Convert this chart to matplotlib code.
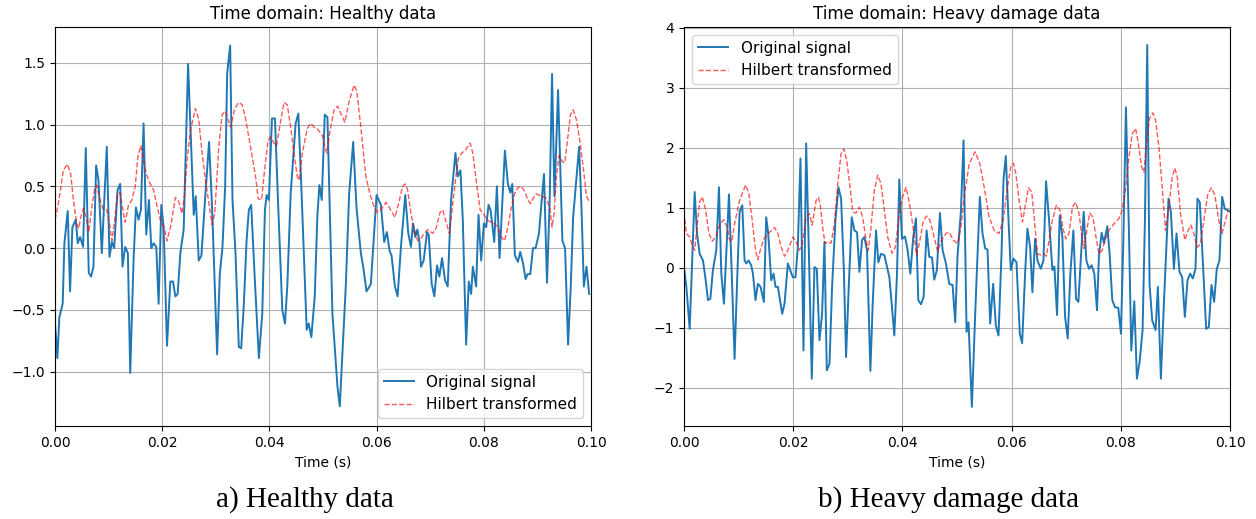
import numpy as np
import matplotlib.pyplot as plt

# healthy data (time in ms, amplitude)
h_t = [0.00, 0.44, 0.81, 1.43, 1.75, 2.37, 2.81, 3.24, 3.87, 4.24, 4.68, 5.24, 5.74, 6.30, 6.73, 7.17,
       7.67, 8.11, 8.73, 9.66, 10.16, 10.60, 11.04, 11.66, 12.16, 12.59, 13.09, 13.59, 14.03, 14.65,
       15.09, 15.59, 16.02, 16.52, 17.02, 17.52, 17.96, 18.39, 18.89, 19.33, 19.83, 20.26, 20.89,
       21.51, 22.01, 22.45, 22.88, 23.38, 24.00, 24.82, 25.88, 26.25, 26.81, 27.31, 28.06, 28.74,
       29.30, 30.24, 30.74, 31.24, 31.74, 32.11, 32.67, 33.11, 33.67, 34.29, 34.73, 35.23, 35.73,
       36.16, 36.60, 37.22, 38.03, 38.66, 39.16, 39.47, 39.90, 40.47, 41.03, 41.59, 42.40, 42.90,
       43.33, 43.96, 44.89, 45.39, 45.95, 46.95, 47.32, 47.82, 48.45, 48.94, 49.32, 49.76, 50.32,
       50.82, 51.75, 52.69, 53.12, 53.62, 54.24, 54.87, 55.62, 56.24, 57.05, 57.49, 58.11, 58.92,
       59.98, 60.79, 61.41, 61.91, 62.41, 62.78, 63.41, 63.91, 64.53, 65.34, 65.90, 66.40, 66.78,
       67.21, 67.59, 67.96, 68.27, 68.77, 69.40, 69.71, 70.27, 70.77, 71.27, 71.70, 72.20, 72.76,
       73.26, 73.88, 74.70, 75.13, 75.63, 76.07, 76.69, 77.19, 77.63, 77.94, 78.25, 78.56, 79.00,
       79.50, 80.00, 80.43, 80.87, 81.24, 81.55, 81.93, 82.43, 82.93, 83.36, 83.92, 84.48, 84.92,
       85.30, 85.79, 86.35, 86.79, 87.29, 87.79, 88.16, 88.66, 89.16, 89.66, 90.28, 90.91, 91.22,
       91.78, 92.28, 92.72, 93.16, 93.53, 93.84, 94.65, 95.15, 95.71, 96.21, 96.65, 97.77, 98.21,
       98.65, 99.15, 99.64]
h_sig = [-0.61, -0.89, -0.56, -0.45, 0.04, 0.30, -0.35, 0.17, 0.23, 0.04, 0.09, 0.01, 0.81, -0.20,
         -0.23, -0.15, 0.67, 0.55, -0.04, 0.82, -0.07, 0.05, 0.00, 0.47, 0.52, -0.15, 0.01, -0.04,
         -1.01, -0.10, 0.33, 0.23, 0.31, 1.01, 0.11, 0.39, 0.00, 0.04, 0.01, -0.45, 0.35, 0.17, -0.79,
         -0.27, -0.27, -0.39, -0.37, -0.04, 0.15, 1.49, 0.27, 0.42, -0.10, -0.06, 0.44, 0.86, 0.33,
         -0.86, -0.21, 0.01, 0.50, 1.41, 1.64, 0.39, -0.04, -0.80, -0.81, -0.45, 0.06, 0.31, 0.35,
         -0.21, -0.89, -0.53, 0.31, 0.43, 0.39, 1.05, 1.05, 0.39, -0.50, -0.61, -0.31, 0.44, 1.01,
         1.09, 0.50, -0.66, -0.61, -0.72, -0.39, 0.26, 0.51, 0.39, 1.08, 1.06, -0.53, -1.12, -1.28,
         -0.85, -0.31, 0.44, 0.86, 0.33, -0.04, -0.15, -0.35, -0.29, 0.43, 0.35, 0.05, 0.13, -0.02,
         -0.06, -0.31, -0.39, 0.01, 0.43, 0.12, 0.01, 0.20, 0.09, 0.15, 0.06, -0.15, -0.10, 0.13,
         0.11, -0.29, -0.39, -0.14, -0.23, -0.08, -0.26, -0.31, 0.39, 0.77, 0.58, 0.63, 0.23, -0.78,
         -0.27, -0.37, -0.15, -0.23, -0.31, 0.27, -0.10, 0.20, 0.17, 0.35, 0.31, 0.20, 0.05, 0.50,
         -0.08, 0.30, 0.79, 0.52, 0.45, 0.52, -0.06, -0.11, -0.03, -0.12, -0.25, -0.21, -0.21, 0.00,
         0.00, 0.12, 0.45, 0.60, -0.28, 0.39, 1.41, 0.42, 0.87, 1.28, 0.06, 0.00, -0.78, -0.31,
         0.25, 0.82, 0.33, -0.31, -0.15, -0.37]
h_env_t = [0.00, 0.62, 1.56, 2.31, 2.93, 3.43, 4.05, 4.43, 4.80, 5.30, 5.80, 6.30, 6.86, 7.36, 7.79,
           8.29, 8.92, 9.66, 10.16, 10.60, 11.04, 11.66, 12.16, 12.66, 13.09, 13.72, 14.34, 14.96,
           15.46, 16.02, 16.52, 17.02, 17.77, 18.39, 19.02, 19.64, 20.39, 20.89, 21.64, 22.45,
           23.07, 23.69, 24.13, 24.63, 25.25, 26.19, 26.81, 27.43, 28.24, 29.30, 29.80, 30.55,
           31.18, 31.80, 32.74, 33.54, 34.29, 34.92, 35.54, 36.47, 37.41, 37.91, 38.53, 39.09,
           39.72, 40.22, 40.84, 41.34, 41.90, 42.71, 43.33, 43.96, 44.58, 45.20, 45.52, 46.14,
           47.07, 47.70, 48.32, 49.07, 49.88, 50.32, 50.69, 51.31, 52.06, 52.69, 53.43, 54.06,
           54.87, 55.80, 56.30, 57.05, 57.99, 58.80, 59.54, 60.17, 60.79, 61.73, 62.35, 63.41,
           64.03, 64.84, 65.34, 65.78, 66.40, 67.03, 67.65, 68.27, 68.90, 69.52, 70.46, 71.08,
           71.83, 72.33, 72.83, 73.57, 74.20, 74.70, 75.26, 75.88, 76.50, 77.44, 77.94, 78.56,
           79.31, 79.93, 80.56, 81.37, 81.99, 82.61, 83.24, 83.86, 84.48, 85.11, 85.73, 86.35,
           86.98, 87.60, 88.22, 88.66, 89.16, 89.78, 90.72, 91.53, 92.28, 92.72, 93.10, 93.53,
           94.03, 94.65, 95.09, 95.59, 96.15, 96.65, 97.27, 97.90, 98.52, 99.15, 99.64]
h_env = [0.23, 0.36, 0.63, 0.68, 0.60, 0.39, 0.20, 0.16, 0.25, 0.32, 0.25, 0.13, 0.33, 0.47, 0.51,
         0.41, 0.32, 0.31, 0.20, 0.06, 0.19, 0.44, 0.45, 0.31, 0.21, 0.35, 0.39, 0.50, 0.74, 0.83,
         0.71, 0.60, 0.52, 0.47, 0.34, 0.23, 0.16, 0.06, 0.19, 0.41, 0.38, 0.28, 0.42, 0.71, 0.95,
         1.13, 1.04, 0.77, 0.50, 0.19, 0.28, 0.82, 1.08, 1.11, 0.98, 1.13, 1.18, 1.16, 1.05, 0.82,
         0.58, 0.40, 0.39, 0.63, 0.87, 0.90, 0.85, 0.83, 0.98, 1.18, 1.16, 0.98, 0.77, 0.58, 0.55,
         0.77, 0.97, 1.01, 0.98, 0.96, 0.91, 0.82, 0.77, 0.95, 1.12, 1.15, 1.08, 1.02, 1.19, 1.32,
         1.27, 0.98, 0.58, 0.43, 0.33, 0.29, 0.31, 0.37, 0.33, 0.25, 0.35, 0.50, 0.52, 0.47, 0.28,
         0.15, 0.06, 0.08, 0.12, 0.15, 0.12, 0.16, 0.29, 0.31, 0.23, 0.12, 0.36, 0.55, 0.73, 0.77,
         0.79, 0.85, 0.77, 0.55, 0.31, 0.28, 0.23, 0.21, 0.20, 0.17, 0.09, 0.06, 0.17, 0.33, 0.44,
         0.49, 0.50, 0.46, 0.39, 0.36, 0.40, 0.44, 0.42, 0.41, 0.33, 0.17, 0.28, 0.58, 0.75, 0.70,
         0.69, 0.87, 1.08, 1.12, 1.04, 0.87, 0.66, 0.42, 0.38]

# heavy damage data (time in ms, amplitude)
d_t = [0.00, 0.43, 1.04, 1.95, 2.38, 2.86, 3.47, 3.90, 4.39, 4.82, 5.30, 5.91, 6.40, 6.83, 7.31,
       7.74, 8.23, 8.72, 9.26, 9.75, 10.18, 10.67, 11.09, 11.40, 11.82, 12.31, 12.62, 13.10, 13.53,
       14.02, 14.63, 15.05, 15.42, 15.97, 16.40, 16.76, 17.19, 17.98, 18.41, 19.02, 19.44, 19.93,
       20.42, 20.84, 21.33, 21.88, 22.37, 22.86, 23.40, 23.89, 24.32, 24.81, 25.29, 25.72, 26.15,
       26.64, 27.12, 27.73, 28.28, 28.77, 29.26, 29.68, 30.17, 30.72, 31.21, 31.69, 32.12, 32.61,
       33.03, 33.52, 34.13, 34.56, 35.17, 35.59, 36.08, 36.69, 37.18, 37.61, 38.09, 38.52, 39.01,
       39.43, 39.92, 40.47, 40.96, 41.45, 41.99, 42.48, 42.91, 43.40, 43.88, 44.43, 44.92, 45.41,
       45.83, 46.32, 46.87, 47.36, 47.97, 48.58, 49.19, 49.67, 50.10, 50.71, 51.20, 51.75, 52.11,
       52.72, 53.33, 54.18, 54.67, 55.16, 55.59, 56.07, 56.62, 57.11, 57.60, 58.15, 58.51, 58.94,
       59.43, 59.85, 60.34, 60.89, 61.50, 61.93, 62.47, 62.90, 63.39, 63.81, 64.30, 64.73, 65.34,
       65.83, 66.31, 66.86, 67.47, 67.84, 68.32, 68.81, 69.30, 69.79, 70.28, 70.76, 71.31, 71.80,
       72.23, 72.71, 73.20, 73.69, 74.18, 74.66, 75.15, 75.64, 76.00, 76.49, 76.92, 77.53, 77.95,
       78.44, 78.93, 79.54, 80.03, 80.45, 80.94, 81.49, 81.92, 82.47, 82.95, 83.44, 83.99, 84.42,
       84.84, 85.27, 85.76, 86.37, 86.79, 87.34, 87.89, 88.32, 88.74, 89.17, 89.72, 90.21, 90.75,
       91.24, 91.73, 92.22, 92.70, 93.19, 93.68, 94.04, 94.47, 95.08, 95.63, 96.12, 96.61, 97.09,
       97.58, 98.07, 98.56, 99.04, 99.53, 99.90]
d_sig = [0.01, -0.32, -1.02, 1.26, 0.57, 0.23, 0.12, -0.16, -0.54, -0.52, -0.04, 0.29, 1.34, -0.10,
         -0.60, 0.23, 1.22, -0.04, -1.52, -0.16, 0.93, 1.04, 0.12, 0.07, 0.12, 0.04, -0.10, -0.54,
         -0.27, -0.32, -0.57, 0.84, 0.57, -0.21, -0.10, -0.32, -0.32, -0.77, -0.60, 0.07, -0.04,
         -0.16, -0.16, 0.34, 1.82, -1.38, 2.07, 0.29, -1.85, 0.01, -0.02, -1.21, -0.77, 0.43, -1.71,
         -1.60, -0.32, 0.79, 1.34, 1.15, 0.00, -1.49, -0.32, 0.84, 0.62, 0.59, -0.07, 0.46, 0.51,
         0.29, -1.72, -0.60, 0.62, 0.09, 0.23, 0.21, 0.01, -0.16, -0.66, -1.13, -0.10, 1.47, 0.48,
         0.52, 0.29, -0.10, 0.51, 0.82, -0.54, -0.61, -0.49, 0.62, 0.18, 0.17, -0.20, -0.04, 0.91,
         0.29, 0.07, -0.27, -0.29, -0.91, 0.20, 0.93, 2.12, -1.07, -0.91, -2.32, -0.77, 1.18, 0.57,
         0.32, 0.30, -0.93, -0.27, -0.96, -1.13, 0.23, 1.46, 1.86, 0.80, -0.04, 0.15, 0.09, -1.10,
         -1.26, -0.10, 0.65, 0.34, -0.41, 0.48, 0.12, -0.02, 0.12, 1.44, 0.79, -0.04, 0.02, -0.79,
         0.87, 0.51, -0.82, -1.18, -0.10, 0.62, -0.52, -0.57, 0.20, 0.93, 0.12, -0.02, 0.04, -0.10,
         -0.71, 0.20, 0.58, 0.41, 0.69, 0.23, -0.54, -0.66, -0.67, -1.10, 0.40, 2.67, 0.60, -1.38,
         -0.56, -1.85, -1.57, -1.04, 0.80, 3.71, -0.29, -0.88, -1.04, -0.32, -1.85, -0.60, 0.30,
         1.15, 0.93, -0.02, 0.57, -0.07, -0.16, -0.82, -0.21, -0.10, -0.18, -0.02, 1.15, 1.09, 0.00,
         -1.02, -0.99, -0.29, -0.57, -0.02, 0.12, 1.18, 0.98, 0.96, 0.94]
d_env_t = [0.00, 0.43, 1.04, 1.65, 1.95, 2.38, 2.86, 3.35, 3.96, 4.57, 5.18, 5.79, 6.52, 7.25, 7.86,
           8.35, 8.72, 9.26, 10.18, 11.28, 11.89, 12.49, 13.10, 13.53, 13.96, 14.63, 15.54, 16.58,
           17.19, 17.80, 18.41, 19.02, 19.93, 20.54, 21.15, 21.64, 22.37, 22.98, 23.47, 24.20,
           24.60, 24.93, 25.42, 25.84, 26.33, 26.94, 27.55, 28.16, 28.77, 29.26, 29.80, 30.41,
           30.90, 31.51, 32.12, 32.73, 33.34, 33.77, 34.25, 34.86, 35.47, 36.08, 36.69, 37.30,
           38.09, 38.70, 39.43, 40.04, 40.65, 41.26, 41.87, 42.60, 43.09, 43.82, 44.43, 45.04,
           45.65, 46.44, 47.18, 47.97, 48.58, 49.31, 50.10, 50.71, 51.32, 52.23, 53.33, 54.18,
           54.98, 55.89, 56.81, 57.72, 58.45, 59.25, 59.85, 60.34, 60.77, 61.38, 61.99, 62.47,
           63.08, 63.69, 64.18, 64.73, 65.34, 65.95, 66.37, 66.86, 67.47, 68.20, 68.87, 69.42,
           69.91, 70.52, 71.13, 71.74, 72.35, 72.96, 73.26, 73.69, 74.30, 74.91, 75.40, 76.00,
           76.61, 77.10, 77.83, 78.75, 79.66, 80.15, 80.76, 81.49, 82.10, 82.71, 83.20, 83.81,
           84.23, 84.66, 85.27, 85.88, 86.37, 86.98, 87.58, 88.19, 88.80, 89.41, 89.90, 90.33,
           90.94, 91.73, 92.34, 92.83, 93.38, 93.99, 94.60, 95.21, 95.94, 96.61, 97.22, 97.95,
           98.56, 99.17, 99.65]
d_env = [0.93, 0.57, 0.51, 0.34, 0.29, 0.68, 1.09, 1.18, 0.96, 0.57, 0.44, 0.51, 0.71, 0.80, 0.68,
         0.46, 0.43, 0.73, 1.12, 1.38, 1.23, 0.79, 0.29, 0.13, 0.29, 0.48, 0.58, 0.67, 0.57, 0.34,
         0.19, 0.29, 0.51, 0.43, 0.29, 0.40, 0.84, 0.90, 0.71, 1.12, 1.17, 1.07, 0.65, 0.40, 0.43,
         0.41, 0.73, 1.40, 1.90, 1.98, 1.79, 1.34, 0.93, 0.91, 1.01, 0.84, 0.46, 0.29, 0.68, 1.29,
         1.54, 1.40, 0.96, 0.51, 0.24, 0.34, 0.90, 1.18, 1.34, 1.09, 0.73, 0.21, 0.40, 0.78, 0.86,
         0.79, 0.57, 0.27, 0.46, 0.57, 0.59, 0.46, 0.40, 0.67, 1.18, 1.73, 1.93, 1.73, 1.34, 0.84,
         0.62, 0.57, 0.79, 1.34, 1.68, 1.74, 1.57, 1.12, 0.76, 1.01, 1.33, 1.26, 0.79, 0.23, 0.21,
         0.23, 0.19, 0.46, 0.79, 1.04, 0.96, 0.65, 0.48, 0.57, 1.01, 1.09, 0.90, 0.46, 0.32, 0.57,
         0.91, 0.84, 0.54, 0.23, 0.29, 0.46, 0.62, 0.73, 0.82, 0.93, 1.23, 1.84, 2.23, 2.32, 2.07,
         1.68, 1.59, 2.01, 2.49, 2.58, 2.46, 2.01, 1.34, 0.62, 1.01, 1.51, 1.66, 1.51, 0.90, 0.46,
         0.62, 0.71, 0.57, 0.34, 0.40, 0.79, 1.23, 1.33, 1.21, 0.79, 0.57, 0.79, 0.96]

panels = [
    ("Time domain: Healthy data", h_t, h_sig, h_env_t, h_env, (-1.44, 1.79),
     [-1.0, -0.5, 0.0, 0.5, 1.0, 1.5], "lower right", "a) Healthy data"),
    ("Time domain: Heavy damage data", d_t, d_sig, d_env_t, d_env, (-2.64, 4.01),
     [-2, -1, 0, 1, 2, 3, 4], "upper left", "b) Heavy damage data"),
]

fig = plt.figure(figsize=(12.56, 5.19), dpi=100)
boxes = [[0.0438, 0.179, 0.4268, 0.769], [0.5446, 0.179, 0.4347, 0.769]]
caption_x = [0.243, 0.755]

for i, (title, t, sig, et, env, ylim, yticks, loc, cap) in enumerate(panels):
    ax = fig.add_axes(boxes[i])
    ax.plot(np.array(t) / 1000, sig, color="#1f77b4", lw=1.4, label="Original signal")
    ax.plot(np.array(et) / 1000, env, "r--", lw=1, alpha=0.65, label="Hilbert transformed")
    ax.set_xlim(0, 0.1)
    ax.set_ylim(*ylim)
    ax.set_yticks(yticks)
    ax.set_title(title, fontsize=12)
    ax.set_xlabel("Time (s)")
    ax.grid(True)
    ax.legend(loc=loc, fontsize=11)
    fig.text(caption_x[i], 0.037, cap, ha="center", va="center",
             fontsize=21, family="Liberation Serif")

fig.savefig("out.png", dpi=100)
